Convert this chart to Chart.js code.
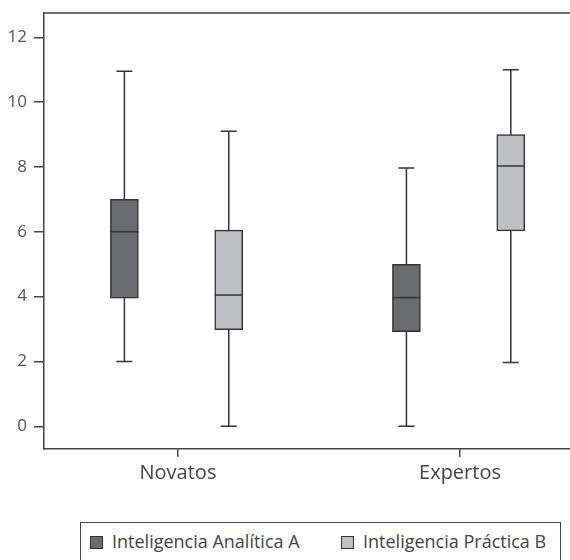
<!DOCTYPE html>
<html>
<head>
<meta charset="utf-8">
<script src="https://cdn.jsdelivr.net/npm/chart.js@4/dist/chart.umd.min.js"></script>
<style>
  html, body { margin: 0; padding: 0; background: #fff; overflow: hidden; }
  #wrap { position: relative; width: 570px; height: 560px; }
  #chart { position: absolute; left: 0; top: 0; }
  #legend {
    position: absolute; left: 80px; top: 522px; width: 481px; height: 60px;
    border: 1.5px solid #444; box-sizing: border-box;
    font-family: "Open Sans", sans-serif; font-size: 18px; color: #444;
  }
  .item { position: absolute; top: 6px; white-space: nowrap; }
  .sw { display: inline-block; width: 11px; height: 11px; border: 1.5px solid #333;
        vertical-align: -1px; margin-right: 9px; }
</style>
</head>
<body>
<div id="wrap">
  <canvas id="chart" width="570" height="500"></canvas>
  <div id="legend"></div>
</div>
<script>
// datos
const categories = ["Novatos", "Expertos"];
const seriesNames = ["Inteligencia Analítica A", "Inteligencia Práctica B"];
const analMin = [2, 0];
const analQ1 = [3.95, 2.92];
const analMed = [6, 3.97];
const analQ3 = [7, 5];
const analMax = [10.95, 7.97];
const pracMin = [0, 1.97];
const pracQ1 = [2.98, 6.03];
const pracMed = [4.05, 8.03];
const pracQ3 = [6.05, 9];
const pracMax = [9.1, 11];
const yTicks = [0, 2, 4, 6, 8, 10, 12];

const colors = ["#6b6c70", "#bfc0c4"];
const offsets = [-0.19, 0.18];
const lineCol = "#333";

function boxes(q1, q3, off) {
  return categories.map((c, i) => ({ x: i + 1 + off, y: [q1[i], q3[i]] }));
}

const stats = [
  { min: analMin, med: analMed, max: analMax },
  { min: pracMin, med: pracMed, max: pracMax }
];

const whiskerPlugin = {
  id: "whiskers",
  beforeDatasetsDraw(chart) {
    const ctx = chart.ctx, xs = chart.scales.x, ys = chart.scales.y;
    ctx.save();
    ctx.strokeStyle = lineCol;
    ctx.lineWidth = 1.5;
    stats.forEach((s, d) => {
      categories.forEach((c, i) => {
        const px = xs.getPixelForValue(i + 1 + offsets[d]);
        const top = ys.getPixelForValue(s.max[i]);
        const bot = ys.getPixelForValue(s.min[i]);
        ctx.beginPath();
        ctx.moveTo(px, top); ctx.lineTo(px, bot);
        ctx.moveTo(px - 8, top); ctx.lineTo(px + 8, top);
        ctx.moveTo(px - 8, bot); ctx.lineTo(px + 8, bot);
        ctx.stroke();
      });
    });
    ctx.restore();
  },
  afterDatasetsDraw(chart) {
    const ctx = chart.ctx, xs = chart.scales.x, ys = chart.scales.y;
    ctx.save();
    ctx.strokeStyle = lineCol;
    ctx.lineWidth = 1.5;
    stats.forEach((s, d) => {
      categories.forEach((c, i) => {
        const px = xs.getPixelForValue(i + 1 + offsets[d]);
        const py = ys.getPixelForValue(s.med[i]);
        ctx.beginPath();
        ctx.moveTo(px - 14, py); ctx.lineTo(px + 14, py);
        ctx.stroke();
      });
    });
    // linea superior del marco
    const a = chart.chartArea;
    ctx.strokeStyle = "#444";
    ctx.beginPath();
    ctx.moveTo(a.left, a.top); ctx.lineTo(chart.width, a.top);
    ctx.stroke();
    ctx.restore();
  }
};

const chart = new Chart(document.getElementById("chart"), {
  type: "bar",
  data: {
    datasets: [
      { label: seriesNames[0], data: boxes(analQ1, analQ3, offsets[0]), backgroundColor: colors[0] },
      { label: seriesNames[1], data: boxes(pracQ1, pracQ3, offsets[1]), backgroundColor: colors[1] }
    ]
  },
  options: {
    responsive: false,
    animation: false,
    layout: { padding: { top: 13, left: 0, right: 0, bottom: 0 } },
    datasets: {
      bar: { grouped: false, barThickness: 28, borderColor: lineCol, borderWidth: 1.5, borderSkipped: false }
    },
    plugins: { legend: { display: false }, tooltip: { enabled: false } },
    scales: {
      x: {
        type: "linear",
        offset: false,
        min: 0.525, max: 2.39,
        afterBuildTicks(s) { s.ticks = categories.map((c, i) => ({ value: i + 1 })); },
        afterFit(s) { s.height = 51; s.paddingLeft = 0; s.paddingRight = 0; },
        ticks: {
          callback: v => categories[v - 1],
          font: { family: "Open Sans", size: 20 }, color: "#444", padding: 4, maxRotation: 0
        },
        grid: { offset: false, drawOnChartArea: false, drawTicks: true, tickLength: 8, color: "#444", lineWidth: 1.5 },
        border: { color: "#444", width: 1.5 }
      },
      y: {
        min: -0.7, max: 12.75,
        afterBuildTicks(s) { s.ticks = yTicks.map(v => ({ value: v })); },
        afterFit(s) { s.width = 44; s.paddingTop = 0; s.paddingBottom = 0; },
        ticks: { font: { family: "Open Sans", size: 17 }, color: "#555", padding: 7 },
        grid: { drawOnChartArea: false, drawTicks: true, tickLength: 10, color: "#444", lineWidth: 1.5 },
        border: { color: "#444", width: 1.5 }
      }
    }
  },
  plugins: [whiskerPlugin]
});

// leyenda
const legend = document.getElementById("legend");
const lefts = [9, 260];
chart.data.datasets.forEach((ds, i) => {
  const it = document.createElement("div");
  it.className = "item";
  it.style.left = lefts[i] + "px";
  const sw = document.createElement("span");
  sw.className = "sw";
  sw.style.background = ds.backgroundColor;
  it.appendChild(sw);
  it.appendChild(document.createTextNode(ds.label));
  legend.appendChild(it);
});
</script>
</body>
</html>
